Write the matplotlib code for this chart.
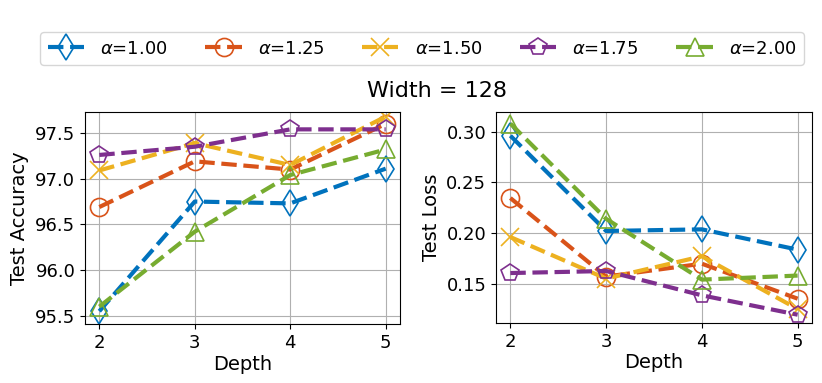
import matplotlib.pyplot as plt
import numpy as np

depth = [2, 3, 4, 5]
alphas = ["1.00", "1.25", "1.50", "1.75", "2.00"]

acc_100 = [95.55, 96.75, 96.73, 97.11]
acc_125 = [96.69, 97.19, 97.10, 97.60]
acc_150 = [97.09, 97.39, 97.15, 97.68]
acc_175 = [97.26, 97.35, 97.54, 97.54]
acc_200 = [95.60, 96.42, 97.04, 97.32]

loss_100 = [0.296, 0.202, 0.2036, 0.1836]
loss_125 = [0.2345, 0.1570, 0.1697, 0.1352]
loss_150 = [0.196, 0.155, 0.177, 0.125]
loss_175 = [0.1605, 0.1625, 0.1385, 0.1194]
loss_200 = [0.308, 0.214, 0.154, 0.158]

accs = [acc_100, acc_125, acc_150, acc_175, acc_200]
losses = [loss_100, loss_125, loss_150, loss_175, loss_200]

colors = ["#0072BD", "#D95319", "#EDB120", "#7E2F8E", "#77AC30"]
markers = ["d", "o", "x", "p", "^"]

fig = plt.figure(figsize=(8.22, 3.83), dpi=100)
ax1 = fig.add_axes([85 / 822, 1 - 324 / 383, 315 / 822, 212 / 383])
ax2 = fig.add_axes([496 / 822, 1 - 323 / 383, 316 / 822, 211 / 383])

handles = []
for i in range(5):
    for ax, ys in [(ax1, accs[i]), (ax2, losses[i])]:
        h, = ax.plot(depth, ys, ls="--", lw=3, color=colors[i], marker=markers[i],
                     ms=13, mfc="none", mew=1.2, label=r"$\alpha$=" + alphas[i])
    handles.append(h)

for ax in [ax1, ax2]:
    ax.set_xticks(depth)
    ax.grid(True, color="#b0b0b0", lw=0.8)
    ax.set_axisbelow(True)
    ax.set_xlabel("Depth", fontsize=14, labelpad=2)
    ax.tick_params(labelsize=13)
    ax.set_xlim(1.85, 5.15)

ax1.set_ylim(95.41, 97.73)
ax1.set_yticks([95.5, 96.0, 96.5, 97.0, 97.5])
ax1.set_ylabel("Test Accuracy", fontsize=14)
ax2.set_ylim(0.1112, 0.3194)
ax2.set_yticks([0.15, 0.20, 0.25, 0.30])
ax2.set_ylabel("Test Loss", fontsize=14)

fig.text(437 / 822, 1 - 91 / 383, "Width = 128", ha="center", va="center", fontsize=16)
fig.legend(handles=handles, loc="center", bbox_to_anchor=(422 / 822, 1 - 48.5 / 383),
           bbox_transform=fig.transFigure, ncol=5, fontsize=13, handlelength=2.0,
           handletextpad=0.9, columnspacing=2.1, markerscale=1.0, frameon=True)

fig.savefig("out.png", dpi=100)
